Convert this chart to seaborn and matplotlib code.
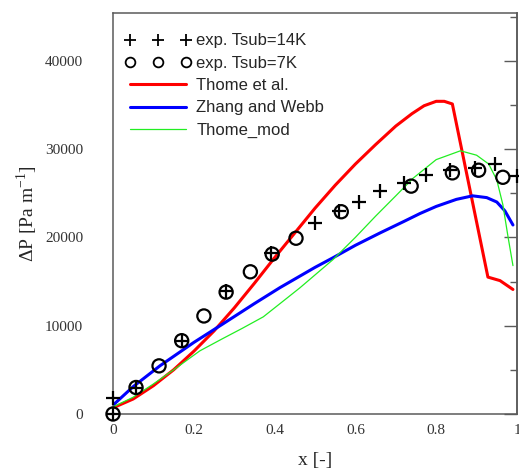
"""Pressure drop vs vapour quality: experiment vs correlations."""
import matplotlib
matplotlib.use("Agg")
import matplotlib.pyplot as plt
from matplotlib.lines import Line2D
from matplotlib.ticker import MultipleLocator
import pandas as pd
import seaborn as sns

# experiments, Tsub = 14 K (crosses)
x_14k = [0, 0, 0.057, 0.17, 0.28, 0.39, 0.50, 0.56, 0.61, 0.66, 0.72, 0.775, 0.835, 0.895, 0.945, 1.0]
dp_14k = [0, 1800, 3000, 8300, 13900, 18200, 21600, 23000, 24000, 25200, 26200, 27100, 27600, 27900, 28300, 26900]

# experiments, Tsub = 7 K (circles)
x_7k = [0, 0.057, 0.114, 0.17, 0.225, 0.28, 0.34, 0.394, 0.453, 0.565, 0.738, 0.84, 0.905, 0.965]
dp_7k = [0, 3000, 5450, 8300, 11100, 13800, 16100, 18100, 19900, 22900, 25800, 27300, 27600, 26800]

# Thome et al.
x_thome = [0, 0.05, 0.1, 0.15, 0.2, 0.25, 0.3, 0.35, 0.4, 0.45, 0.5, 0.55, 0.6, 0.65, 0.7,
           0.74, 0.77, 0.8, 0.82, 0.84, 0.928, 0.958, 0.99]
dp_thome = [700, 1700, 3200, 5000, 7100, 9400, 12000, 14800, 17700, 20500, 23300, 25900, 28300,
            30500, 32600, 34000, 34900, 35400, 35400, 35100, 15500, 15100, 14100]

# Zhang and Webb
x_zhang = [0, 0.05, 0.116, 0.2, 0.272, 0.35, 0.413, 0.5, 0.545, 0.6, 0.661, 0.72, 0.76, 0.8,
           0.85, 0.89, 0.925, 0.95, 0.97, 0.99]
dp_zhang = [1000, 3100, 5450, 8100, 10200, 12500, 14300, 16600, 17700, 19100, 20500, 21800, 22700,
            23500, 24300, 24700, 24500, 24000, 23000, 21400]

# Thome_mod
x_mod = [0, 0.05, 0.1, 0.15, 0.215, 0.27, 0.32, 0.364, 0.372, 0.43, 0.463, 0.545, 0.6, 0.65,
         0.7, 0.743, 0.8, 0.86, 0.9, 0.93, 0.95, 0.965, 0.978, 0.99]
dp_mod = [800, 1900, 3400, 5000, 7150, 8500, 9700, 10800, 11000, 13100, 14300, 17500, 20000, 22400,
          24700, 26700, 28800, 29800, 29300, 28300, 26500, 23700, 20000, 16800]

sns.set_style("white")
plt.rcParams["font.family"] = ["Liberation Serif", "DejaVu Serif"]
plt.rcParams["mathtext.fontset"] = "custom"
plt.rcParams["mathtext.rm"] = "Liberation Serif"

SPINE = "#5a5a5a"

fig = plt.figure(figsize=(5.19, 4.71), dpi=100)
ax = fig.add_axes([113 / 519, 1 - 414 / 471, 404 / 519, 401 / 471])

curves = [
    (x_thome, dp_thome, "#ff0000", 2.2),
    (x_zhang, dp_zhang, "#0000ff", 2.2),
    (x_mod, dp_mod, "#22ee22", 0.9),
]
for xs, ys, col, lw in curves:
    df = pd.DataFrame({"x": xs, "dp": ys})
    sns.lineplot(data=df, x="x", y="dp", sort=False, estimator=None, color=col, lw=lw, ax=ax)

sns.scatterplot(x=x_14k, y=dp_14k, marker="+", s=110, color="black", linewidth=1.6,
                ax=ax, clip_on=False, zorder=5)
sns.scatterplot(x=x_7k, y=dp_7k, marker="o", s=90, facecolor="none", edgecolor="black",
                linewidth=1.6, ax=ax, clip_on=False, zorder=5)

ax.set_xlim(0, 1)
ax.set_ylim(0, 45400)
ax.xaxis.set_minor_locator(MultipleLocator(0.1))
ax.yaxis.set_major_locator(MultipleLocator(10000))
ax.yaxis.set_minor_locator(MultipleLocator(5000))
ax.set_xticks([0, 0.2, 0.4, 0.6, 0.8, 1.0])
ax.set_xticklabels(["0", "0.2", "0.4", "0.6", "0.8", "1"])

ax.tick_params(axis="y", which="major", direction="out", length=14.4, width=1.0,
               color=SPINE, pad=7, labelsize=11, labelcolor="#333333")
ax.tick_params(axis="y", which="minor", direction="out", length=4.8, width=1.0, color=SPINE)
ax.tick_params(axis="x", which="major", direction="in", length=9, width=1.0,
               color=SPINE, pad=7, labelsize=11, labelcolor="#333333")
ax.tick_params(axis="x", which="minor", direction="in", length=4.2, width=1.0, color=SPINE)

# right side: inward ticks, no labels
sec = ax.secondary_yaxis("right")
sec.yaxis.set_major_locator(MultipleLocator(10000))
sec.yaxis.set_minor_locator(MultipleLocator(5000))
sec.tick_params(which="major", direction="in", length=9.5, width=1.0, color=SPINE, labelright=False)
sec.tick_params(which="minor", direction="in", length=5, width=1.0, color=SPINE)
sec.spines["right"].set_color(SPINE)
sec.spines["right"].set_linewidth(1.1)

for sp in ax.spines.values():
    sp.set_color(SPINE)
    sp.set_linewidth(1.1)
    sp.set_visible(True)

ax.set_xlabel("x [-]", fontsize=14, labelpad=11)
ax.set_ylabel(r"ΔP [Pa m$^{-1}$]", fontsize=14, labelpad=4)

handles = [
    Line2D([], [], ls="none", marker="+", ms=8, mew=1.3, color="black"),
    Line2D([], [], ls="none", marker="o", ms=7, mew=1.3, mfc="none", mec="black"),
    Line2D([], [], color="#ff0000", lw=2.2),
    Line2D([], [], color="#0000ff", lw=2.2),
    Line2D([], [], color="#22ee22", lw=0.9),
]
labels = ["exp. Tsub=14K", "exp. Tsub=7K", "Thome et al.", "Zhang and Webb", "Thome_mod"]
leg = ax.legend(handles, labels, loc="upper left", bbox_to_anchor=(0.0, 0.978), numpoints=3,
                frameon=False, handlelength=4.0, handletextpad=0.3, labelspacing=0.44,
                borderaxespad=0.3, prop={"family": "Liberation Sans", "size": 12})

fig.savefig("out.png", dpi=100)
plt.close(fig)
